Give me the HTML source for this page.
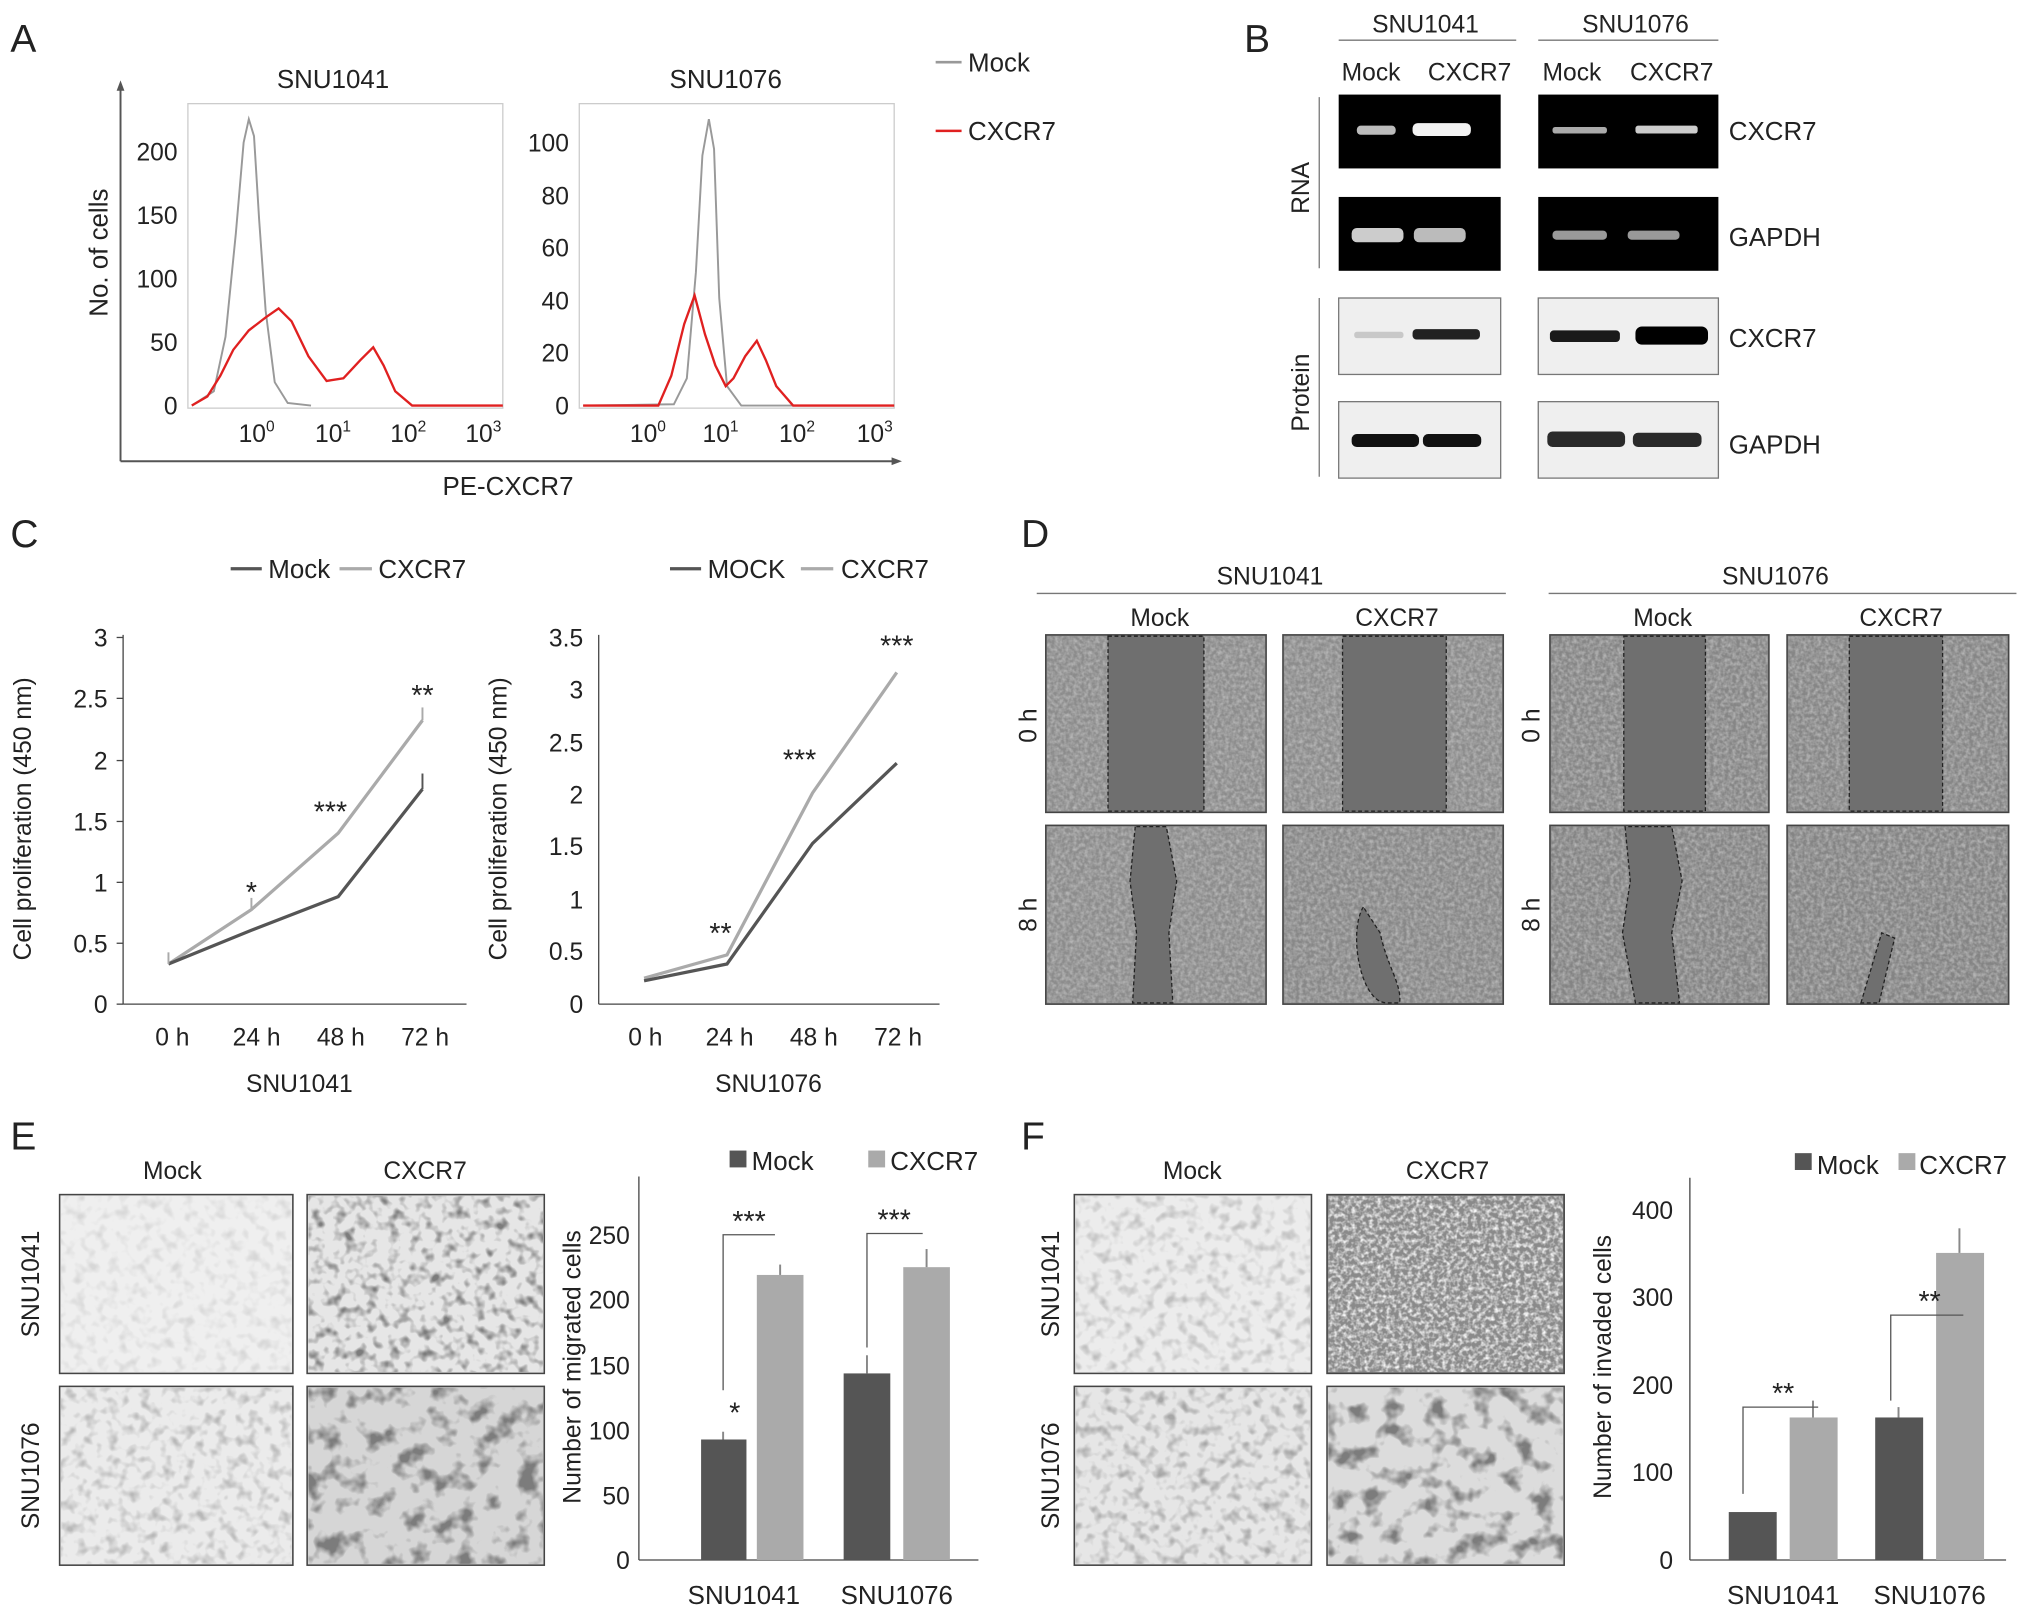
<!DOCTYPE html>
<html><head><meta charset="utf-8"><style>
html,body{margin:0;padding:0;background:#fff;}
svg{display:block;}
text{font-family:"Liberation Sans",Arial,sans-serif;fill:#222;}
</style></head><body>
<svg width="2032" height="1617" viewBox="0 0 1568 1248" preserveAspectRatio="none" xmlns="http://www.w3.org/2000/svg">
<defs>
<filter id="cells" x="0" y="0" width="1" height="1">
<feTurbulence type="fractalNoise" baseFrequency="0.35" numOctaves="2" seed="3"/>
<feColorMatrix type="matrix" values="0 0 0 0 0.55  0 0 0 0 0.55  0 0 0 0 0.55  1.4 0 0 0 -0.45"/>
<feComposite in2="SourceGraphic" operator="in"/>
</filter>
<filter id="cells2" x="0" y="0" width="1" height="1">
<feTurbulence type="fractalNoise" baseFrequency="0.3" numOctaves="2" seed="5"/>
<feColorMatrix type="matrix" values="0 0 0 0 0.95  0 0 0 0 0.95  0 0 0 0 0.95  2.2 0 0 0 -0.85"/>
<feComposite in2="SourceGraphic" operator="in"/>
</filter>
<filter id="spots" x="0" y="0" width="1" height="1">
<feTurbulence type="fractalNoise" baseFrequency="0.12" numOctaves="2" seed="7"/>
<feColorMatrix type="matrix" values="0 0 0 0 0.2  0 0 0 0 0.2  0 0 0 0 0.2  -3 0 0 0 1.55"/>
<feComposite in2="SourceGraphic" operator="in"/>
</filter>
<filter id="bigspots" x="0" y="0" width="1" height="1">
<feTurbulence type="fractalNoise" baseFrequency="0.06" numOctaves="3" seed="11"/>
<feColorMatrix type="matrix" values="0 0 0 0 0.2  0 0 0 0 0.2  0 0 0 0 0.2  -4 0 0 0 2.0"/>
<feComposite in2="SourceGraphic" operator="in"/>
</filter>
</defs>

<!-- Panel A -->
<text x="8" y="40" font-size="30">A</text>
<line x1="93" y1="68" x2="93" y2="356" stroke="#555" stroke-width="1.5"/>
<polygon points="93,62 90,70 96,70" fill="#555"/>
<line x1="93" y1="356" x2="690" y2="356" stroke="#555" stroke-width="1.5"/>
<polygon points="696,356 688,353 688,359" fill="#555"/>
<text x="83" y="195" font-size="20" text-anchor="middle" transform="rotate(-90 83 195)">No. of cells</text>
<text x="392" y="382" font-size="20" text-anchor="middle">PE-CXCR7</text>
<text x="257" y="68" font-size="20" text-anchor="middle">SNU1041</text>
<text x="560" y="68" font-size="20" text-anchor="middle">SNU1076</text>
<rect x="145" y="80" width="243" height="235" fill="none" stroke="#ccc"/>
<rect x="447" y="80" width="243" height="235" fill="none" stroke="#ccc"/>
<g font-size="19" text-anchor="end">
<text x="137" y="320">0</text><text x="137" y="271">50</text><text x="137" y="222">100</text><text x="137" y="173">150</text><text x="137" y="124">200</text>
<text x="439" y="320">0</text><text x="439" y="279">20</text><text x="439" y="239">40</text><text x="439" y="198">60</text><text x="439" y="158">80</text><text x="439" y="117">100</text>
</g>
<g font-size="19" text-anchor="middle">
<text x="198" y="341">10<tspan font-size="12" dy="-8">0</tspan></text>
<text x="257" y="341">10<tspan font-size="12" dy="-8">1</tspan></text>
<text x="315" y="341">10<tspan font-size="12" dy="-8">2</tspan></text>
<text x="373" y="341">10<tspan font-size="12" dy="-8">3</tspan></text>
<text x="500" y="341">10<tspan font-size="12" dy="-8">0</tspan></text>
<text x="556" y="341">10<tspan font-size="12" dy="-8">1</tspan></text>
<text x="615" y="341">10<tspan font-size="12" dy="-8">2</tspan></text>
<text x="675" y="341">10<tspan font-size="12" dy="-8">3</tspan></text>
</g>
<polyline fill="none" stroke="#999" stroke-width="1.5" points="148,313 165,302 174,260 182,180 188,110 192,92 196,105 200,170 205,240 212,295 222,311 240,313"/>
<polyline fill="none" stroke="#e02020" stroke-width="1.8" points="148,313 160,306 170,290 180,270 192,255 205,245 215,238 225,248 238,275 252,294 265,292 278,278 288,268 296,282 305,302 318,313 388,313"/>
<polyline fill="none" stroke="#999" stroke-width="1.5" points="450,313 520,312 530,292 537,210 542,120 547,92 551,115 555,230 561,298 572,313 690,313"/>
<polyline fill="none" stroke="#e02020" stroke-width="1.8" points="450,313 508,313 518,290 528,250 536,228 544,258 552,282 560,298 566,292 575,275 584,263 591,278 599,298 612,313 690,313"/>
<line x1="722" y1="48" x2="742" y2="48" stroke="#999" stroke-width="2"/>
<text x="747" y="55" font-size="20">Mock</text>
<line x1="722" y1="101" x2="742" y2="101" stroke="#e02020" stroke-width="2"/>
<text x="747" y="108" font-size="20">CXCR7</text>

<!-- Panel B -->
<text x="960" y="40" font-size="30">B</text>
<text x="1100" y="25" font-size="19" text-anchor="middle">SNU1041</text>
<text x="1262" y="25" font-size="19" text-anchor="middle">SNU1076</text>
<line x1="1033" y1="31" x2="1170" y2="31" stroke="#777"/>
<line x1="1187" y1="31" x2="1326" y2="31" stroke="#777"/>
<g font-size="19" text-anchor="middle">
<text x="1058" y="62">Mock</text><text x="1134" y="62">CXCR7</text>
<text x="1213" y="62">Mock</text><text x="1290" y="62">CXCR7</text>
</g>
<line x1="1018" y1="75" x2="1018" y2="207" stroke="#777"/>
<line x1="1018" y1="230" x2="1018" y2="368" stroke="#777"/>
<text x="1010" y="145" font-size="19" text-anchor="middle" transform="rotate(-90 1010 145)">RNA</text>
<text x="1010" y="303" font-size="19" text-anchor="middle" transform="rotate(-90 1010 303)">Protein</text>
<rect x="1033" y="73" width="125" height="57" fill="#000"/>
<rect x="1187" y="73" width="139" height="57" fill="#000"/>
<rect x="1033" y="152" width="125" height="57" fill="#000"/>
<rect x="1187" y="152" width="139" height="57" fill="#000"/>
<rect x="1047" y="97" width="30" height="7" rx="3" fill="#bbb"/>
<rect x="1090" y="95" width="45" height="10" rx="4" fill="#f2f2f2"/>
<rect x="1198" y="98" width="42" height="5" rx="2" fill="#aaa"/>
<rect x="1262" y="97" width="48" height="6" rx="2" fill="#ccc"/>
<rect x="1043" y="176" width="40" height="11" rx="4" fill="#ccc"/>
<rect x="1091" y="176" width="40" height="11" rx="4" fill="#bbb"/>
<rect x="1198" y="178" width="42" height="7" rx="3" fill="#999"/>
<rect x="1256" y="178" width="40" height="7" rx="3" fill="#999"/>
<rect x="1033" y="230" width="125" height="59" fill="#efefef" stroke="#777"/>
<rect x="1187" y="230" width="139" height="59" fill="#efefef" stroke="#777"/>
<rect x="1033" y="310" width="125" height="59" fill="#efefef" stroke="#777"/>
<rect x="1187" y="310" width="139" height="59" fill="#efefef" stroke="#777"/>
<rect x="1045" y="256" width="38" height="5" rx="2" fill="#c8c8c8"/>
<rect x="1090" y="254" width="52" height="8" rx="3" fill="#222"/>
<rect x="1196" y="255" width="54" height="9" rx="3" fill="#1a1a1a"/>
<rect x="1262" y="252" width="56" height="14" rx="5" fill="#000"/>
<rect x="1043" y="335" width="52" height="10" rx="4" fill="#111"/>
<rect x="1098" y="335" width="45" height="10" rx="4" fill="#111"/>
<rect x="1194" y="333" width="60" height="12" rx="4" fill="#2a2a2a"/>
<rect x="1260" y="334" width="53" height="11" rx="4" fill="#2a2a2a"/>
<g font-size="20"><text x="1334" y="108">CXCR7</text><text x="1334" y="190">GAPDH</text><text x="1334" y="268">CXCR7</text><text x="1334" y="350">GAPDH</text></g>

<!-- Panel C -->
<text x="8" y="422" font-size="30">C</text>
<g stroke="#555" stroke-width="2.5"><line x1="178" y1="439" x2="202" y2="439"/><line x1="517" y1="439" x2="541" y2="439"/></g>
<g stroke="#aaa" stroke-width="2.5"><line x1="262" y1="439" x2="287" y2="439"/><line x1="618" y1="439" x2="643" y2="439"/></g>
<g font-size="20"><text x="207" y="446">Mock</text><text x="292" y="446">CXCR7</text><text x="546" y="446">MOCK</text><text x="649" y="446">CXCR7</text></g>
<line x1="95" y1="490" x2="95" y2="775" stroke="#444"/>
<line x1="95" y1="775" x2="360" y2="775" stroke="#444"/>
<g font-size="19" text-anchor="end">
<text x="83" y="782">0</text><text x="83" y="735">0.5</text><text x="83" y="688">1</text><text x="83" y="641">1.5</text><text x="83" y="594">2</text><text x="83" y="546">2.5</text><text x="83" y="499">3</text>
</g>
<g stroke="#444"><line x1="90" y1="775" x2="95" y2="775"/><line x1="90" y1="728" x2="95" y2="728"/><line x1="90" y1="681" x2="95" y2="681"/><line x1="90" y1="634" x2="95" y2="634"/><line x1="90" y1="587" x2="95" y2="587"/><line x1="90" y1="539" x2="95" y2="539"/><line x1="90" y1="492" x2="95" y2="492"/></g>
<g font-size="19" text-anchor="middle"><text x="133" y="807">0 h</text><text x="198" y="807">24 h</text><text x="263" y="807">48 h</text><text x="328" y="807">72 h</text><text x="231" y="843">SNU1041</text></g>
<text x="24" y="632" font-size="19" text-anchor="middle" transform="rotate(-90 24 632)">Cell proliferation (450 nm)</text>
<polyline fill="none" stroke="#aaa" stroke-width="2.5" points="130,744 194,702 261,643 326,556"/>
<polyline fill="none" stroke="#555" stroke-width="2.5" points="130,744 194,718 261,692 326,609"/>
<g stroke="#aaa" stroke-width="1.5"><line x1="130" y1="744" x2="130" y2="735"/><line x1="194" y1="702" x2="194" y2="693"/><line x1="326" y1="556" x2="326" y2="546"/></g>
<g stroke="#555" stroke-width="1.5"><line x1="326" y1="609" x2="326" y2="597"/></g>
<g font-size="22" text-anchor="middle" fill="#333"><text x="194" y="696">*</text><text x="255" y="634">***</text><text x="326" y="544">**</text></g>

<line x1="462" y1="490" x2="462" y2="775" stroke="#444"/>
<line x1="462" y1="775" x2="725" y2="775" stroke="#444"/>
<g font-size="19" text-anchor="end">
<text x="450" y="782">0</text><text x="450" y="741">0.5</text><text x="450" y="701">1</text><text x="450" y="660">1.5</text><text x="450" y="620">2</text><text x="450" y="580">2.5</text><text x="450" y="539">3</text><text x="450" y="499">3.5</text>
</g>
<g font-size="19" text-anchor="middle"><text x="498" y="807">0 h</text><text x="563" y="807">24 h</text><text x="628" y="807">48 h</text><text x="693" y="807">72 h</text><text x="593" y="843">SNU1076</text></g>
<text x="391" y="632" font-size="19" text-anchor="middle" transform="rotate(-90 391 632)">Cell proliferation (450 nm)</text>
<polyline fill="none" stroke="#aaa" stroke-width="2.5" points="497,755 561,737 627,612 692,519"/>
<polyline fill="none" stroke="#555" stroke-width="2.5" points="497,757 561,744 627,651 692,589"/>
<g font-size="22" text-anchor="middle" fill="#333"><text x="556" y="728">**</text><text x="617" y="594">***</text><text x="692" y="506">***</text></g>

<!-- Panel D -->
<text x="788" y="422" font-size="30">D</text>
<text x="980" y="451" font-size="19" text-anchor="middle">SNU1041</text>
<text x="1370" y="451" font-size="19" text-anchor="middle">SNU1076</text>
<line x1="800" y1="458" x2="1162" y2="458" stroke="#777"/>
<line x1="1195" y1="458" x2="1556" y2="458" stroke="#777"/>
<g font-size="19" text-anchor="middle"><text x="895" y="483">Mock</text><text x="1078" y="483">CXCR7</text><text x="1283" y="483">Mock</text><text x="1467" y="483">CXCR7</text></g>
<text x="800" y="560" font-size="19" text-anchor="middle" transform="rotate(-90 800 560)">0 h</text>
<text x="800" y="706" font-size="19" text-anchor="middle" transform="rotate(-90 800 706)">8 h</text>
<text x="1188" y="560" font-size="19" text-anchor="middle" transform="rotate(-90 1188 560)">0 h</text>
<text x="1188" y="706" font-size="19" text-anchor="middle" transform="rotate(-90 1188 706)">8 h</text>
<g stroke="#444" stroke-width="1.2">
<rect x="807" y="490" width="170" height="137" fill="#8c8c8c"/>
<rect x="990" y="490" width="170" height="137" fill="#8c8c8c"/>
<rect x="1196" y="490" width="169" height="137" fill="#868686"/>
<rect x="1379" y="490" width="171" height="137" fill="#868686"/>
<rect x="807" y="637" width="170" height="138" fill="#8c8c8c"/>
<rect x="990" y="637" width="170" height="138" fill="#888"/>
<rect x="1196" y="637" width="169" height="138" fill="#848484"/>
<rect x="1379" y="637" width="171" height="138" fill="#848484"/>
</g>
<g filter="url(#cells)" fill="#fff">
<rect x="808" y="491" width="168" height="135"/><rect x="991" y="491" width="168" height="135"/>
<rect x="1197" y="491" width="167" height="135"/><rect x="1380" y="491" width="169" height="135"/>
<rect x="808" y="638" width="168" height="136"/><rect x="991" y="638" width="168" height="136"/>
<rect x="1197" y="638" width="167" height="136"/><rect x="1380" y="638" width="169" height="136"/>
</g>
<g fill="#6f6f6f" stroke="#222" stroke-dasharray="3,2" stroke-width="1">
<rect x="855" y="491" width="74" height="135"/>
<rect x="1036" y="491" width="80" height="135"/>
<rect x="1253" y="491" width="63" height="135"/>
<rect x="1427" y="491" width="72" height="135"/>
<path d="M876,638 L872,680 L877,720 L874,774 L905,774 L902,720 L908,680 L900,638 Z"/>
<path d="M1254,638 L1258,680 L1252,720 L1262,774 L1296,774 L1290,720 L1298,680 L1290,638 Z"/>
<path d="M1052,700 C1040,720 1050,774 1070,774 L1080,774 C1082,760 1070,745 1065,720 Z"/>
<path d="M1436,774 L1452,720 L1462,724 L1450,774 Z"/>
</g>

<!-- Panel E -->
<text x="8" y="887" font-size="30">E</text>
<g font-size="19" text-anchor="middle"><text x="133" y="910">Mock</text><text x="328" y="910">CXCR7</text></g>
<text x="30" y="991" font-size="19" text-anchor="middle" transform="rotate(-90 30 991)">SNU1041</text>
<text x="30" y="1139" font-size="19" text-anchor="middle" transform="rotate(-90 30 1139)">SNU1076</text>
<g stroke="#444" stroke-width="1.2">
<rect x="46" y="922" width="180" height="138" fill="#efefef"/>
<rect x="237" y="922" width="183" height="138" fill="#e6e6e6"/>
<rect x="46" y="1070" width="180" height="138" fill="#ebebeb"/>
<rect x="237" y="1070" width="183" height="138" fill="#d6d6d6"/>
</g>
<rect x="47" y="923" width="178" height="136" fill="#fff" filter="url(#spots)" opacity="0.2"/>
<rect x="238" y="923" width="181" height="136" fill="#fff" filter="url(#spots)"/>
<rect x="47" y="1071" width="178" height="136" fill="#fff" filter="url(#spots)" opacity="0.45"/>
<rect x="238" y="1071" width="181" height="136" fill="#fff" filter="url(#bigspots)"/>
<rect x="563" y="888" width="13" height="13" fill="#555"/><text x="580" y="903" font-size="20">Mock</text>
<rect x="670" y="888" width="13" height="13" fill="#aaa"/><text x="687" y="903" font-size="20">CXCR7</text>
<line x1="493" y1="908" x2="493" y2="1204" stroke="#444"/>
<line x1="493" y1="1204" x2="755" y2="1204" stroke="#444"/>
<g font-size="19" text-anchor="end"><text x="486" y="1211">0</text><text x="486" y="1161">50</text><text x="486" y="1111">100</text><text x="486" y="1061">150</text><text x="486" y="1010">200</text><text x="486" y="960">250</text></g>
<text x="448" y="1055" font-size="19" text-anchor="middle" transform="rotate(-90 448 1055)">Number of migrated cells</text>
<rect x="541" y="1111" width="35" height="93" fill="#555"/>
<rect x="584" y="984" width="36" height="220" fill="#aaa"/>
<rect x="651" y="1060" width="36" height="144" fill="#555"/>
<rect x="697" y="978" width="36" height="226" fill="#aaa"/>
<g stroke="#888" stroke-width="1.5"><line x1="558" y1="1111" x2="558" y2="1105"/><line x1="602" y1="984" x2="602" y2="976"/><line x1="669" y1="1060" x2="669" y2="1046"/><line x1="715" y1="978" x2="715" y2="964"/></g>
<polyline fill="none" stroke="#555" points="558,1073 558,953 598,953"/>
<polyline fill="none" stroke="#555" points="669,1040 669,952 712,952"/>
<g font-size="22" text-anchor="middle" fill="#333"><text x="578" y="950">***</text><text x="690" y="949">***</text><text x="567" y="1098">*</text></g>
<g font-size="20" text-anchor="middle"><text x="574" y="1238">SNU1041</text><text x="692" y="1238">SNU1076</text></g>

<!-- Panel F -->
<text x="788" y="887" font-size="30">F</text>
<g font-size="19" text-anchor="middle"><text x="920" y="910">Mock</text><text x="1117" y="910">CXCR7</text></g>
<text x="817" y="991" font-size="19" text-anchor="middle" transform="rotate(-90 817 991)">SNU1041</text>
<text x="817" y="1139" font-size="19" text-anchor="middle" transform="rotate(-90 817 1139)">SNU1076</text>
<g stroke="#444" stroke-width="1.2">
<rect x="829" y="922" width="183" height="138" fill="#ececec"/>
<rect x="1024" y="922" width="183" height="138" fill="#8a8a8a"/>
<rect x="829" y="1070" width="183" height="138" fill="#e6e6e6"/>
<rect x="1024" y="1070" width="183" height="138" fill="#dcdcdc"/>
</g>
<rect x="830" y="923" width="181" height="136" fill="#fff" filter="url(#spots)" opacity="0.4"/>
<rect x="1025" y="923" width="181" height="136" fill="#fff" filter="url(#cells2)"/>
<rect x="830" y="1071" width="181" height="136" fill="#fff" filter="url(#spots)" opacity="0.6"/>
<rect x="1025" y="1071" width="181" height="136" fill="#fff" filter="url(#bigspots)"/>
<rect x="1385" y="890" width="13" height="13" fill="#555"/><text x="1402" y="906" font-size="20">Mock</text>
<rect x="1465" y="890" width="13" height="13" fill="#aaa"/><text x="1481" y="906" font-size="20">CXCR7</text>
<line x1="1304" y1="909" x2="1304" y2="1204" stroke="#444"/>
<line x1="1304" y1="1204" x2="1548" y2="1204" stroke="#444"/>
<g font-size="19" text-anchor="end"><text x="1291" y="1211">0</text><text x="1291" y="1143">100</text><text x="1291" y="1076">200</text><text x="1291" y="1008">300</text><text x="1291" y="941">400</text></g>
<text x="1243" y="1055" font-size="19" text-anchor="middle" transform="rotate(-90 1243 1055)">Number of invaded cells</text>
<rect x="1334" y="1167" width="37" height="37" fill="#555"/>
<rect x="1381" y="1094" width="37" height="110" fill="#aaa"/>
<rect x="1447" y="1094" width="37" height="110" fill="#555"/>
<rect x="1494" y="967" width="37" height="237" fill="#aaa"/>
<g stroke="#888" stroke-width="1.5"><line x1="1399" y1="1094" x2="1399" y2="1081"/><line x1="1465" y1="1094" x2="1465" y2="1086"/><line x1="1512" y1="967" x2="1512" y2="948"/></g>
<polyline fill="none" stroke="#555" points="1345,1153 1345,1086 1403,1086"/>
<polyline fill="none" stroke="#555" points="1459,1081 1459,1015 1515,1015"/>
<g font-size="22" text-anchor="middle" fill="#333"><text x="1376" y="1083">**</text><text x="1489" y="1012">**</text></g>
<g font-size="20" text-anchor="middle"><text x="1376" y="1238">SNU1041</text><text x="1489" y="1238">SNU1076</text></g>
</svg>
</body></html>
